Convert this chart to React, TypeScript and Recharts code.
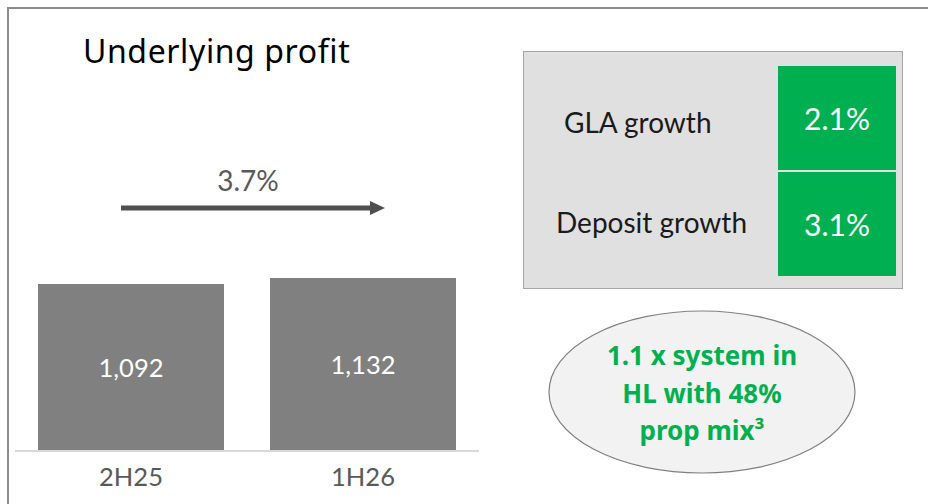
import React from "react";
import { BarChart, Bar, XAxis, YAxis, LabelList } from "recharts";

const periods = ["2H25", "1H26"];
const profit = [1092, 1132];
const changeLabel = "3.7%";
const growthLabels = ["GLA growth", "Deposit growth"];
const growthValues = ["2.1%", "3.1%"];
const calloutLines = ["1.1 x system in", "HL with 48%", "prop mix³"];

const data = periods.map((p, i) => ({ period: p, value: profit[i] }));

const FONT = "Lato, 'Noto Sans', sans-serif";
const GREEN = "#00b050";

export default function App() {
  return (
    <div
      style={{
        position: "fixed",
        left: 0,
        top: 0,
        width: 928,
        height: 504,
        background: "#fff",
        overflow: "hidden",
        fontFamily: FONT,
      }}
    >
      {/* frame */}
      <div style={{ position: "absolute", left: 7, top: 7, width: 940, height: 520, borderLeft: "2px solid #8c8c8c", borderTop: "2px solid #8c8c8c" }} />

      <div style={{ position: "absolute", left: 83, top: 31, fontFamily: "'Noto Sans', sans-serif", fontSize: 32, letterSpacing: 0.6, color: "#000", lineHeight: "40px" }}>
        Underlying profit
      </div>

      <div style={{ position: "absolute", left: 148, width: 200, top: 163, textAlign: "center", fontSize: 28, color: "#595959", lineHeight: "34px" }}>
        {changeLabel}
      </div>

      <svg width={928} height={504} style={{ position: "absolute", left: 0, top: 0 }}>
        <line x1={121} y1={208} x2={372} y2={208} stroke="#505050" strokeWidth={5} />
        <polygon points="370,201 385,208 370,215" fill="#505050" />
        <ellipse cx={702} cy={392} rx={153} ry={81} fill="#f2f2f2" stroke="#808080" strokeWidth={1.2} />
      </svg>

      <div style={{ position: "absolute", left: 0, top: 0 }}>
        <BarChart width={480} height={504} data={data} margin={{ top: 267.5, right: 1, left: 15, bottom: 0 }}>
          <XAxis
            dataKey="period"
            height={53}
            axisLine={{ stroke: "#d9d9d9", strokeWidth: 2 }}
            tickLine={false}
            tickMargin={11}
            tick={{ fill: "#595959", fontSize: 25.5, fontFamily: FONT }}
          />
          <YAxis hide domain={[0, 1200]} />
          <Bar dataKey="value" fill="#808080" barSize={186} isAnimationActive={false}>
            <LabelList
              dataKey="value"
              position="center"
              fill="#fff"
              fontSize={25.5}
              fontFamily={FONT}
              formatter={(v: number) => v.toLocaleString("en-US")}
            />
          </Bar>
        </BarChart>
      </div>

      {/* growth panel */}
      <div style={{ position: "absolute", left: 523, top: 51, width: 378, height: 236, background: "#e0e0e0", border: "1px solid #a6a6a6" }} />
      {growthLabels.map((label, i) => (
        <React.Fragment key={label}>
          <div
            style={{
              position: "absolute",
              left: 778,
              top: i === 0 ? 66 : 172,
              width: 118,
              height: 104,
              background: GREEN,
              color: "#fff",
              fontSize: 30,
              display: "flex",
              alignItems: "center",
              justifyContent: "center",
            }}
          >
            {growthValues[i]}
          </div>
          <div
            style={{
              position: "absolute",
              left: i === 0 ? 564 : 556,
              top: i === 0 ? 105 : 205,
              fontSize: 28,
              color: "#1a1a1a",
              lineHeight: "34px",
              whiteSpace: "nowrap",
            }}
          >
            {label}
          </div>
        </React.Fragment>
      ))}

      <div
        style={{
          position: "absolute",
          left: 552,
          width: 300,
          top: 337,
          textAlign: "center",
          color: GREEN,
          fontFamily: "'Noto Sans', sans-serif",
          fontWeight: 700,
          fontSize: 26,
          lineHeight: "37.5px",
        }}
      >
        {calloutLines.map((l, i) => (
          <div key={i}>{l}</div>
        ))}
      </div>
    </div>
  );
}
